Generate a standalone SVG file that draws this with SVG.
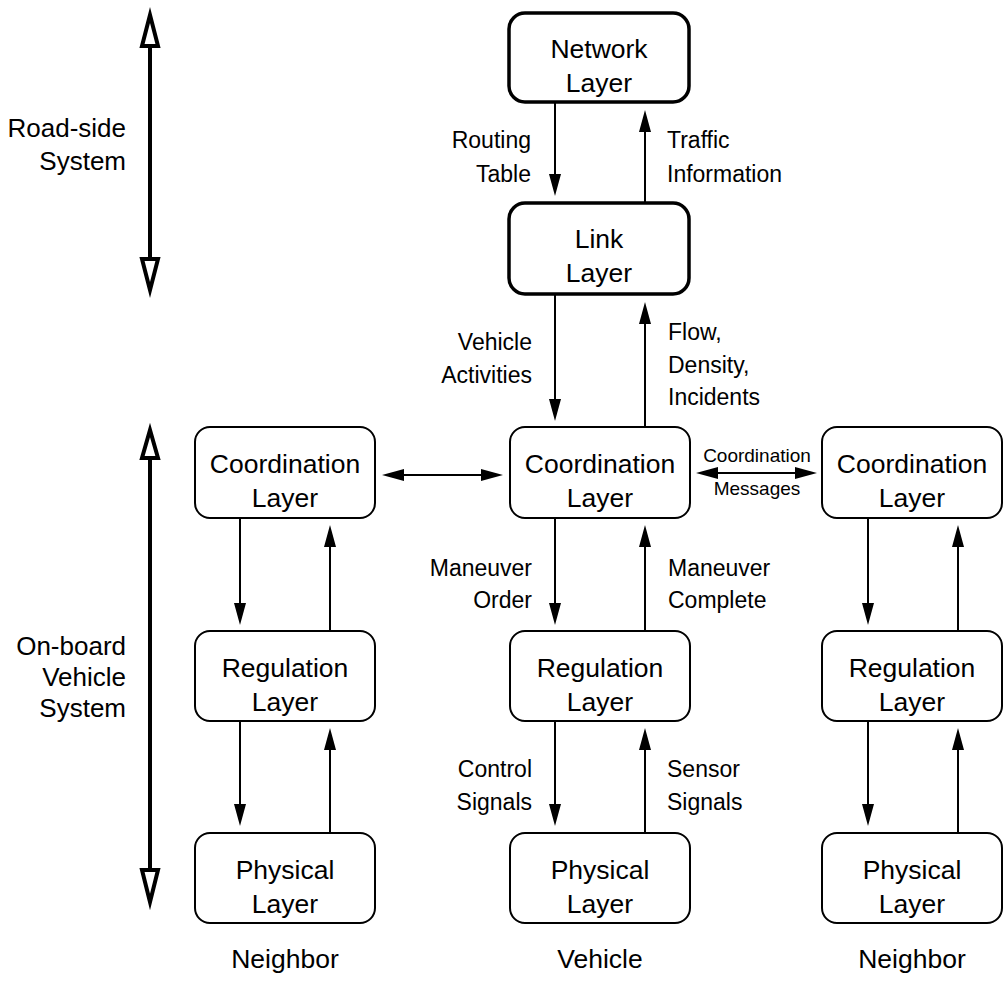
<svg xmlns="http://www.w3.org/2000/svg" width="1005" height="982" viewBox="0 0 1005 982">
<style>
text{font-family:"Liberation Sans",Arial,sans-serif;fill:#000}
.n{font-size:26.5px;text-anchor:middle}
.s{font-size:26px;text-anchor:end}
.l{font-size:23px}
.r{text-anchor:end}
.m{font-size:19px;text-anchor:middle}
.box{fill:#fff;stroke:#000;stroke-width:2}
.thick{stroke-width:3.5}
.c{fill:none;stroke:#000;stroke-width:2}
.big{fill:none;stroke:#000;stroke-width:4}
.head{fill:#fff;stroke:#000;stroke-width:4;stroke-linejoin:miter;stroke-miterlimit:10}
</style>
<defs>
<marker id="ah" viewBox="0 0 22 12" markerWidth="22" markerHeight="12" refX="12" refY="6" markerUnits="userSpaceOnUse" orient="auto-start-reverse">
<path d="M0,0 L22,6 L0,12 z" fill="#000"/>
</marker>
</defs>
<rect width="1005" height="982" fill="#fff"/>

<g id="scale-roadside">
<path class="big" d="M150,46 V259"/>
<polygon class="head" points="150,15 142,46 158,46"/>
<polygon class="head" points="150,290 142,259 158,259"/>
<text class="s" x="126" y="137">Road-side</text>
<text class="s" x="126" y="170">System</text>
</g>
<g id="scale-onboard">
<path class="big" d="M150,458 V870"/>
<polygon class="head" points="150,430 142,458 158,458"/>
<polygon class="head" points="150,902 142,870 158,870"/>
<text class="s" x="126" y="655">On-board</text>
<text class="s" x="126" y="686">Vehicle</text>
<text class="s" x="126" y="717">System</text>
</g>

<g id="connectors">
<path class="c" marker-end="url(#ah)" d="M555,103 V186"/>
<path class="c" marker-end="url(#ah)" d="M645,202 V120"/>
<path class="c" marker-end="url(#ah)" d="M555,295 V411"/>
<path class="c" marker-end="url(#ah)" d="M645,427 V312"/>
<path class="c" marker-end="url(#ah)" d="M555,518 V615"/>
<path class="c" marker-end="url(#ah)" d="M645,631 V535"/>
<path class="c" marker-end="url(#ah)" d="M555,721 V816"/>
<path class="c" marker-end="url(#ah)" d="M645,833 V738"/>
<path class="c" marker-end="url(#ah)" d="M240,518 V615"/>
<path class="c" marker-end="url(#ah)" d="M330,631 V535"/>
<path class="c" marker-end="url(#ah)" d="M240,721 V816"/>
<path class="c" marker-end="url(#ah)" d="M330,833 V738"/>
<path class="c" marker-end="url(#ah)" d="M868,518 V615"/>
<path class="c" marker-end="url(#ah)" d="M958,631 V535"/>
<path class="c" marker-end="url(#ah)" d="M868,721 V816"/>
<path class="c" marker-end="url(#ah)" d="M958,833 V738"/>
<path class="c" marker-start="url(#ah)" marker-end="url(#ah)" d="M392,475 H493"/>
<path class="c" marker-start="url(#ah)" marker-end="url(#ah)" d="M706,473 H807"/>
<text class="l r" x="531" y="148">Routing</text>
<text class="l r" x="531" y="182">Table</text>
<text class="l" x="667" y="148">Traffic</text>
<text class="l" x="667" y="182">Information</text>
<text class="l r" x="532" y="350">Vehicle</text>
<text class="l r" x="532" y="383">Activities</text>
<text class="l" x="668" y="340">Flow,</text>
<text class="l" x="668" y="373">Density,</text>
<text class="l" x="668" y="405">Incidents</text>
<text class="l r" x="532" y="576">Maneuver</text>
<text class="l r" x="532" y="608">Order</text>
<text class="l" x="668" y="576">Maneuver</text>
<text class="l" x="668" y="608">Complete</text>
<text class="l r" x="532" y="777">Control</text>
<text class="l r" x="532" y="810">Signals</text>
<text class="l" x="667" y="777">Sensor</text>
<text class="l" x="667" y="810">Signals</text>
<text class="m" x="757" y="462">Coordination</text>
<text class="m" x="757" y="495">Messages</text>
</g>

<g id="network-layer">
<rect class="box thick" x="509" y="13" width="180" height="89" rx="16"/>
<text class="n" x="599" y="58">Network</text>
<text class="n" x="599" y="92">Layer</text>
</g>
<g id="link-layer">
<rect class="box thick" x="509" y="203" width="180" height="91" rx="16"/>
<text class="n" x="599" y="248">Link</text>
<text class="n" x="599" y="282">Layer</text>
</g>

<g id="coord-left">
<rect class="box" x="195" y="427" width="180" height="91" rx="15"/>
<text class="n" x="285" y="473">Coordination</text>
<text class="n" x="285" y="507">Layer</text>
</g>
<g id="coord-center">
<rect class="box" x="510" y="427" width="180" height="91" rx="15"/>
<text class="n" x="600" y="473">Coordination</text>
<text class="n" x="600" y="507">Layer</text>
</g>
<g id="coord-right">
<rect class="box" x="822" y="427" width="180" height="91" rx="15"/>
<text class="n" x="912" y="473">Coordination</text>
<text class="n" x="912" y="507">Layer</text>
</g>

<g id="reg-left">
<rect class="box" x="195" y="631" width="180" height="90" rx="15"/>
<text class="n" x="285" y="677">Regulation</text>
<text class="n" x="285" y="711">Layer</text>
</g>
<g id="reg-center">
<rect class="box" x="510" y="631" width="180" height="90" rx="15"/>
<text class="n" x="600" y="677">Regulation</text>
<text class="n" x="600" y="711">Layer</text>
</g>
<g id="reg-right">
<rect class="box" x="822" y="631" width="180" height="90" rx="15"/>
<text class="n" x="912" y="677">Regulation</text>
<text class="n" x="912" y="711">Layer</text>
</g>

<g id="phys-left">
<rect class="box" x="195" y="833" width="180" height="90" rx="15"/>
<text class="n" x="285" y="879">Physical</text>
<text class="n" x="285" y="913">Layer</text>
</g>
<g id="phys-center">
<rect class="box" x="510" y="833" width="180" height="90" rx="15"/>
<text class="n" x="600" y="879">Physical</text>
<text class="n" x="600" y="913">Layer</text>
</g>
<g id="phys-right">
<rect class="box" x="822" y="833" width="180" height="90" rx="15"/>
<text class="n" x="912" y="879">Physical</text>
<text class="n" x="912" y="913">Layer</text>
</g>

<g id="column-labels">
<text class="n" x="285" y="968">Neighbor</text>
<text class="n" x="600" y="968">Vehicle</text>
<text class="n" x="912" y="968">Neighbor</text>
</g>
</svg>
